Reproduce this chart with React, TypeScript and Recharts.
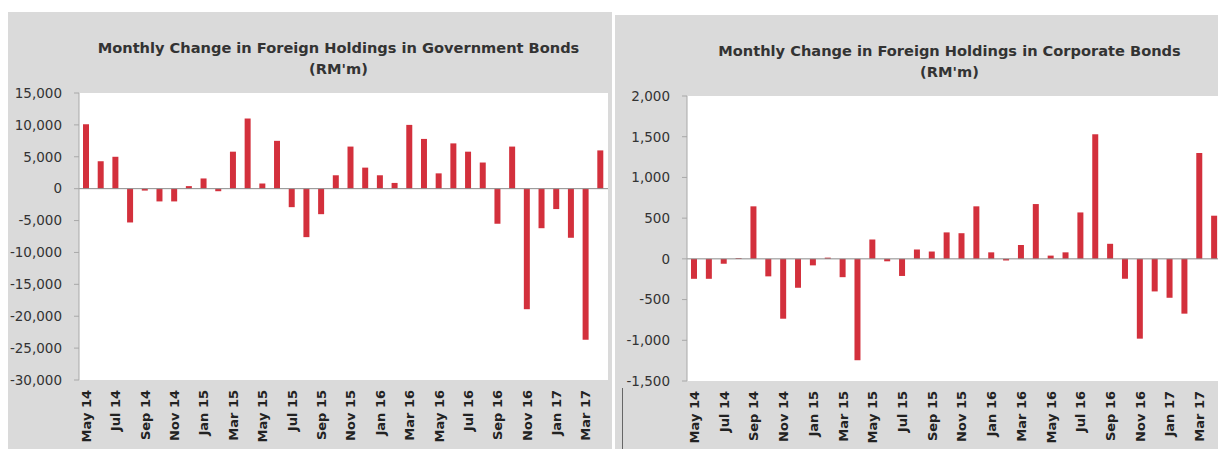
import React from 'react';
import { BarChart, Bar, XAxis, YAxis, CartesianGrid, ReferenceLine } from 'recharts';

const months = [
  'May 14', 'Jun 14', 'Jul 14', 'Aug 14', 'Sep 14', 'Oct 14', 'Nov 14', 'Dec 14',
  'Jan 15', 'Feb 15', 'Mar 15', 'Apr 15', 'May 15', 'Jun 15', 'Jul 15', 'Aug 15',
  'Sep 15', 'Oct 15', 'Nov 15', 'Dec 15', 'Jan 16', 'Feb 16', 'Mar 16', 'Apr 16',
  'May 16', 'Jun 16', 'Jul 16', 'Aug 16', 'Sep 16', 'Oct 16', 'Nov 16', 'Dec 16',
  'Jan 17', 'Feb 17', 'Mar 17', 'Apr 17',
];

// RM'm, monthly change
const govBonds = [
  10100, 4300, 5000, -5300, -300, -2000, -2000, 400, 1600, -400, 5800, 11000,
  800, 7500, -2900, -7600, -4000, 2100, 6600, 3300, 2100, 900, 10000, 7800,
  2400, 7100, 5800, 4100, -5500, 6600, -18900, -6200, -3200, -7700, -23700, 6000,
];

const corpBonds = [
  -245, -245, -60, 10, 645, -215, -735, -355, -80, 15, -225, -1245,
  237, -30, -210, 115, 90, 325, 315, 645, 80, -20, 170, 673,
  40, 80, 570, 1530, 185, -245, -980, -400, -478, -673, 1300, 530,
];

const govTicks = [-30000, -25000, -20000, -15000, -10000, -5000, 0, 5000, 10000, 15000];
const corpTicks = [-1500, -1000, -500, 0, 500, 1000, 1500, 2000];

const BAR_RED = '#d3303c';
const PANEL_GREY = '#dadada';
const FONT = '"DejaVu Sans", Verdana, sans-serif';

const fmt = (v: number) => v.toLocaleString('en-US');

// rotated month labels, reading bottom to top, top-aligned under the plot
const MonthTick = (props: any) => {
  const { x, y, payload } = props;
  return (
    <text
      x={x}
      y={y}
      transform={`rotate(-90, ${x}, ${y})`}
      textAnchor="end"
      dominantBaseline="central"
      fontFamily={FONT}
      fontWeight="bold"
      fontSize={13}
      fill="#222"
    >
      {payload.value}
    </text>
  );
};

interface PanelProps {
  title: string;
  values: number[];
  ticks: number[];
  left: number;
  top: number;
  width: number;
  height: number;
  yAxisWidth: number;
  plotTop: number;
  xAxisHeight: number;
}

function BondPanel({ title, values, ticks, left, top, width, height, yAxisWidth, plotTop, xAxisHeight }: PanelProps) {
  const data = months.map((m, i) => ({ month: m, value: values[i] }));
  const rightMargin = 4;
  const plotWidth = width - yAxisWidth - rightMargin;

  return (
    <div style={{ position: 'absolute', left, top, width, height, background: PANEL_GREY }}>
      <div
        style={{
          position: 'absolute',
          left: yAxisWidth - 10,
          top: 25,
          width: plotWidth + 10,
          textAlign: 'center',
          fontFamily: FONT,
          fontWeight: 'bold',
          fontSize: 14.6,
          lineHeight: '21px',
          color: '#333',
        }}
      >
        Monthly Change in Foreign Holdings in {title} Bonds
        <br />
        (RM'm)
      </div>
      <BarChart
        width={width}
        height={height}
        data={data}
        margin={{ top: plotTop, right: rightMargin, bottom: 0, left: 0 }}
        barCategoryGap={0}
      >
        <CartesianGrid horizontal={false} vertical={false} fill="#fff" />
        <XAxis
          dataKey="month"
          interval={1}
          height={xAxisHeight}
          axisLine={false}
          tickLine={false}
          tickSize={0}
          tickMargin={10}
          tick={<MonthTick />}
        />
        <YAxis
          width={yAxisWidth}
          domain={[ticks[0], ticks[ticks.length - 1]]}
          ticks={ticks}
          interval={0}
          tickFormatter={fmt}
          axisLine={{ stroke: '#a8a8a8' }}
          tickLine={{ stroke: '#a8a8a8' }}
          tickSize={5}
          tickMargin={12}
          tick={{ fontFamily: FONT, fontSize: 13.5, fill: '#333' }}
        />
        <ReferenceLine y={0} stroke="#8a8a8a" />
        <Bar dataKey="value" fill={BAR_RED} barSize={6} isAnimationActive={false} />
      </BarChart>
    </div>
  );
}

export default function App() {
  return (
    <div style={{ position: 'relative', margin: -8, width: 1226, height: 457, overflow: 'hidden', background: '#fff' }}>
      <BondPanel
        title="Government"
        values={govBonds}
        ticks={govTicks}
        left={8}
        top={12}
        width={604}
        height={443}
        yAxisWidth={71}
        plotTop={81}
        xAxisHeight={75}
      />
      <BondPanel
        title="Corporate"
        values={corpBonds}
        ticks={corpTicks}
        left={615}
        top={15}
        width={611}
        height={442}
        yAxisWidth={72}
        plotTop={81}
        xAxisHeight={76}
      />
      <div style={{ position: 'absolute', left: 622, top: 388, width: 1, height: 69, background: '#666' }} />
    </div>
  );
}
